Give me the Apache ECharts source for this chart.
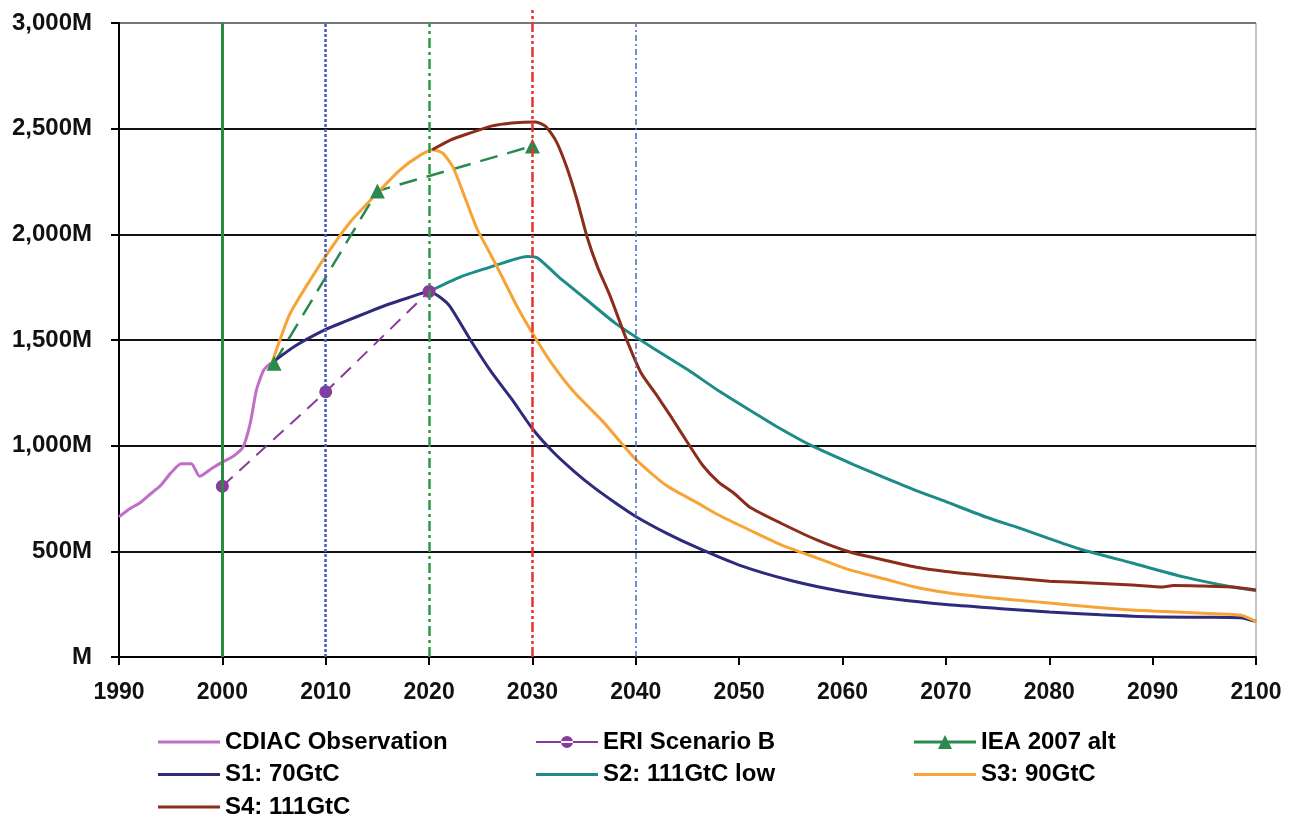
<!DOCTYPE html>
<html>
<head>
<meta charset="utf-8">
<title>CO2 emission scenarios</title>
<script src="https://cdn.jsdelivr.net/npm/echarts@6/dist/echarts.min.js"></script>
<style>
  html, body { margin: 0; padding: 0; background: #fff; }
  #chart { width: 1292px; height: 823px; }
</style>
</head>
<body>
<div id="chart"></div>
<script>
// values, in M (millions)
const cdiacYears = [1990, 1991, 1992, 1993, 1994, 1995, 1996, 1997, 1997.8, 1999, 2000, 2001, 2002, 2002.7, 2003.3, 2004, 2004.7]
const cdiacValues = [663, 700, 729, 770, 810, 870, 915, 915, 855, 893, 922, 948, 994, 1107, 1264, 1358, 1392]

const eriYears = [2000, 2010, 2020]
const eriValues = [808, 1255, 1730]

const ieaYears = [2005, 2015, 2030]
const ieaValues = [1390, 2205, 2418]

const s1Years = [2004.8, 2007, 2010, 2012, 2014, 2016, 2018, 2020, 2021, 2022, 2024, 2026, 2028, 2030, 2032, 2034, 2036, 2038, 2040, 2043, 2046, 2050, 2055, 2060, 2065, 2070, 2075, 2080, 2085, 2090, 2095, 2098.5, 2100]
const s1Values = [1392, 1470, 1550, 1590, 1630, 1668, 1700, 1730, 1705, 1660, 1500, 1350, 1220, 1080, 970, 880, 800, 730, 665, 585, 516, 435, 362, 310, 274, 248, 230, 213, 200, 190, 188, 186, 168]

const s2Years = [2020, 2023, 2026, 2029.5, 2030.5, 2032.5, 2035, 2038, 2041.5, 2045, 2048, 2051, 2054, 2057, 2061, 2064, 2067, 2070, 2074, 2077, 2080, 2083, 2088, 2093, 2097.7, 2100]
const s2Values = [1730, 1798, 1846, 1895, 1888, 1800, 1700, 1580, 1467, 1360, 1260, 1169, 1080, 1000, 912, 850, 790, 735, 660, 612, 560, 510, 445, 379, 331, 315]

const s3Years = [2004.8, 2006.5, 2008.5, 2010.4, 2012.3, 2015, 2017.2, 2019, 2020.3, 2021.3, 2022.3, 2023.3, 2024.6, 2026, 2027, 2028.5, 2030.4, 2032, 2034, 2036.8, 2040, 2043, 2046, 2048, 2051, 2054, 2057.5, 2060.7, 2064, 2067, 2070, 2073.6, 2077, 2080, 2082, 2088, 2094.5, 2098.5, 2099.7, 2100]
const s3Values = [1392, 1620, 1784, 1926, 2054, 2196, 2305, 2370, 2400, 2385, 2319, 2196, 2030, 1900, 1805, 1660, 1500, 1380, 1255, 1115, 935, 810, 728, 672, 601, 532, 469, 412, 370, 331, 305, 284, 268, 256, 246, 222, 208, 199, 175, 165]

const s4Years = [2020.3, 2022, 2024, 2026, 2028, 2030.3, 2031.3, 2032.3, 2033.3, 2034.3, 2035.3, 2036.3, 2037.5, 2039, 2040.5, 2042, 2043.5, 2045, 2046.5, 2048, 2049.5, 2051, 2054, 2057.5, 2060.7, 2064, 2067, 2070, 2074, 2080, 2082, 2088, 2091, 2092, 2094.5, 2097.7, 2100]
const s4Values = [2400, 2445, 2480, 2512, 2527, 2532, 2510, 2440, 2320, 2165, 1985, 1845, 1710, 1515, 1345, 1240, 1130, 1015, 905, 828, 775, 710, 634, 554, 497, 459, 426, 405, 385, 358, 355, 341, 331, 338, 336, 331, 317]

// reference years marked by vertical lines
const markYears = [2000, 2010, 2020, 2040]
const peakYear = 2030

const pairs = (xs, ys) => xs.map((x, i) => [x, ys[i]])

const font = '"Liberation Sans", Arial, sans-serif'

// legend icons (62 x 14 box)
const iconLine = 'path://M0,0 M0,5.5 H62 V8.5 H0 Z M62,14'
const iconDot = 'path://M0,0 M0,6 H62 V8 H0 Z M25,7 A6,6 0 1,0 37,7 A6,6 0 1,0 25,7 Z M62,14'
const iconTri = 'path://M0,0 M0,5.5 H62 V8.5 H0 Z M31,0 L38,14 L24,14 Z M62,14'

const chart = echarts.init(document.getElementById('chart'))

const lineSeries = (name, xs, ys, color, extra) => Object.assign({
  name: name,
  type: 'line',
  data: pairs(xs, ys),
  showSymbol: false,
  symbol: 'none',
  smooth: 0.2,
  z: 3,
  color: color,
  lineStyle: { color: color, width: 3 }
}, extra || {})

const vStyles = [
  { color: '#2b8a44', width: 3, type: 'solid' },
  { color: '#4a5bbf', width: 2.5, type: [3, 2] },
  { color: '#2b9a48', width: 2.5, type: [10, 4, 3, 4] },
  { color: '#4a64c8', width: 1.5, type: [6, 3, 2, 3] }
]

const legendText = { fontFamily: font, fontWeight: 'bold', fontSize: 24, lineHeight: 24, color: '#000' }
const legendBase = {
  top: 725, height: 120, orient: 'vertical', itemGap: 8.5, itemWidth: 62, itemHeight: 14,
  textStyle: legendText, selectedMode: false
}

const option = {
  animation: false,
  backgroundColor: '#fff',
  grid: [
    { left: 119, right: 36, top: 23, bottom: 166, show: true, borderColor: '#888', borderWidth: 1 },
    { left: 119, right: 36, top: 10, bottom: 166 }
  ],
  xAxis: [
    {
      type: 'value',
      min: 1990, max: 2100, interval: 10,
      axisLine: { lineStyle: { color: '#000', width: 2 } },
      axisTick: { show: true, length: 8, lineStyle: { color: '#000', width: 2 } },
      axisLabel: { margin: 24, fontFamily: font, fontWeight: 'bold', fontSize: 23, color: '#111', formatter: v => String(v) },
      splitLine: { show: false }
    },
    { type: 'value', gridIndex: 1, min: 1990, max: 2100, show: false }
  ],
  yAxis: [
    {
      type: 'value',
      min: 0, max: 3000, interval: 500,
      axisLine: { show: true, lineStyle: { color: '#000', width: 2 } },
      axisTick: { show: true, length: 8, lineStyle: { color: '#000', width: 2 } },
      axisLabel: {
        margin: 27, fontFamily: font, fontWeight: 'bold', fontSize: 24, color: '#111',
        formatter: v => v === 0 ? 'M' : v.toLocaleString('en-US') + 'M'
      },
      splitLine: { show: true, lineStyle: { color: ['#000', '#111', '#111', '#111', '#111', '#111', '#777'], width: 2 } }
    },
    // same scale as the main axis, reaching 13px higher so the 2030 line pokes above the frame
    { type: 'value', gridIndex: 1, min: 0, max: 3061.5, show: false }
  ],
  legend: [
    Object.assign({ left: 153, data: [
      { name: 'CDIAC Observation', icon: iconLine },
      { name: 'S1: 70GtC', icon: iconLine },
      { name: 'S4: 111GtC', icon: iconLine }
    ] }, legendBase),
    Object.assign({ left: 531, data: [
      { name: 'ERI Scenario B', icon: iconDot },
      { name: 'S2: 111GtC low', icon: iconLine }
    ] }, legendBase),
    Object.assign({ left: 909, data: [
      { name: 'IEA 2007 alt', icon: iconTri },
      { name: 'S3: 90GtC', icon: iconLine }
    ] }, legendBase)
  ],
  series: [
    {
      name: 'marks',
      type: 'line',
      data: [],
      z: 1,
      markLine: {
        silent: true,
        symbol: ['none', 'none'],
        label: { show: false },
        data: markYears.map((yr, i) => [
          { coord: [yr, 0], lineStyle: vStyles[i] },
          { coord: [yr, 3000] }
        ])
      }
    },
    {
      name: 'peak mark',
      type: 'line',
      xAxisIndex: 1,
      yAxisIndex: 1,
      data: [],
      z: 1,
      markLine: {
        silent: true,
        symbol: ['none', 'none'],
        label: { show: false },
        data: [[
          { coord: [peakYear, 0], lineStyle: { color: '#e83232', width: 2.5, type: [10, 3, 3, 3, 3, 3] } },
          { coord: [peakYear, 3061.5] }
        ]]
      }
    },
    lineSeries('CDIAC Observation', cdiacYears, cdiacValues, '#c06fc6'),
    lineSeries('ERI Scenario B', eriYears, eriValues, '#8a3a9c', {
      smooth: false, showSymbol: true, symbol: 'circle', symbolSize: 13,
      lineStyle: { color: '#8a3a9c', width: 2, type: [14, 9] },
      itemStyle: { color: '#8a3a9c' }
    }),
    lineSeries('IEA 2007 alt', ieaYears, ieaValues, '#2a8a4e', {
      smooth: false, showSymbol: true, symbol: 'triangle', symbolSize: 15,
      lineStyle: { color: '#2a8a4e', width: 2.5, type: [18, 10] },
      itemStyle: { color: '#2a8a4e' }
    }),
    lineSeries('S1: 70GtC', s1Years, s1Values, '#2e2a7c'),
    lineSeries('S2: 111GtC low', s2Years, s2Values, '#1d8b88'),
    lineSeries('S3: 90GtC', s3Years, s3Values, '#f7a335'),
    lineSeries('S4: 111GtC', s4Years, s4Values, '#8c2d1c')
  ]
}

chart.setOption(option)
</script>
</body>
</html>
